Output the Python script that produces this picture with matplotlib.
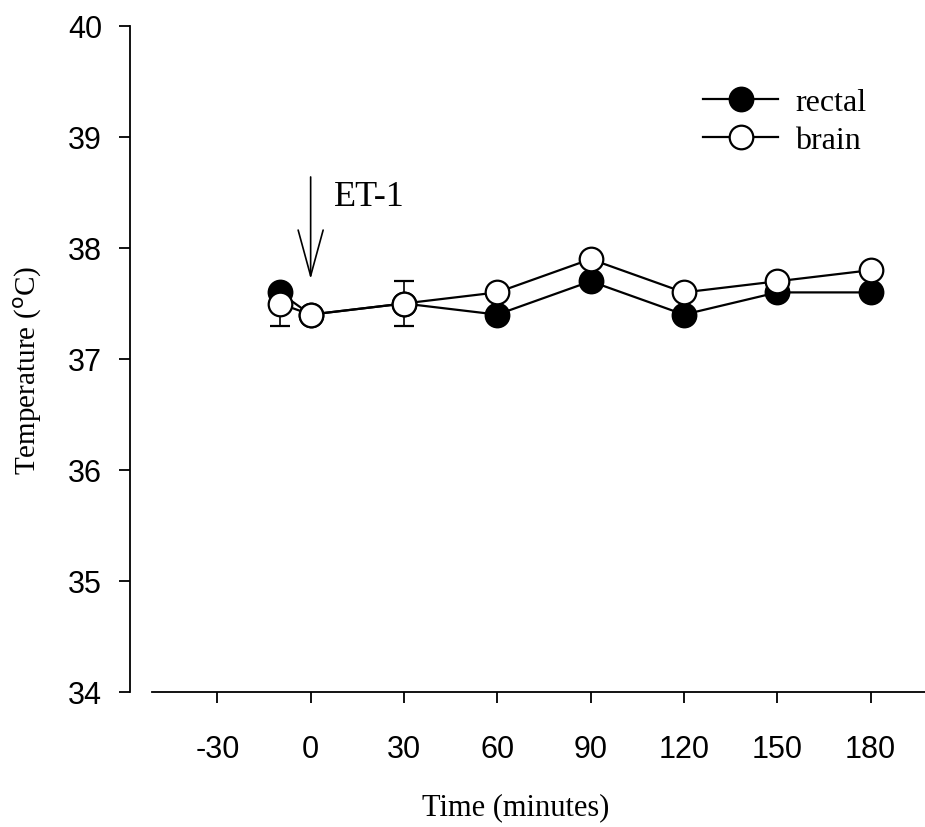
import matplotlib
matplotlib.use('Agg')
import matplotlib.pyplot as plt
from matplotlib.lines import Line2D

plt.rcParams['axes.unicode_minus'] = False

# time points (minutes) and mean temperatures
minutes = [-10, 0, 30, 60, 90, 120, 150, 180]
rectal = [37.6, 37.4, 37.5, 37.4, 37.7, 37.4, 37.6, 37.6]
brain = [37.5, 37.4, 37.5, 37.6, 37.9, 37.6, 37.7, 37.8]
brain_err_low = [0.2, 0, 0.2, 0, 0, 0, 0, 0]
brain_err_high = [0, 0, 0.2, 0, 0, 0, 0, 0]
xticks = [-30, 0, 30, 60, 90, 120, 150, 180]
yticks = [34, 35, 36, 37, 38, 39, 40]

sans = 'Liberation Sans'
serif = 'Liberation Serif'

fig = plt.figure(figsize=(9.25, 8.28), dpi=100)
ax = fig.add_axes([152 / 925, 135 / 828, 1 - 152 / 925, 666 / 828])

lw = 1.6
ms = 17
ax.plot(minutes, rectal, color='black', lw=lw, marker='o', ms=ms,
        mfc='black', mec='black', mew=lw, zorder=3)
ax.errorbar(minutes, brain, yerr=[brain_err_low, brain_err_high], color='black',
            lw=lw, marker='o', ms=ms, mfc='white', mec='black', mew=lw,
            capsize=7, elinewidth=1.2, zorder=4)

ax.set_xlim(-51, 197.5)
ax.set_ylim(34, 40)
ax.set_xticks(xticks)
ax.set_yticks(yticks)
ax.spines['top'].set_visible(False)
ax.spines['right'].set_visible(False)
ax.spines['left'].set_position(('outward', 16))
for s in ('left', 'bottom'):
    ax.spines[s].set_linewidth(1.3)
ax.tick_params(axis='both', direction='out', length=8, width=1.3)
ax.tick_params(axis='x', pad=22)
ax.tick_params(axis='y', pad=12)
for lab in ax.get_xticklabels() + ax.get_yticklabels():
    lab.set_fontfamily(sans)
    lab.set_fontsize(22)

ax.set_xlabel('Time (minutes)', fontfamily=serif, fontsize=22)
ax.set_ylabel('Temperature ($^{\\rm o}$C)', fontfamily=serif, fontsize=21)
ax.xaxis.set_label_coords(0.47, -0.173)
ax.xaxis.label.set_verticalalignment('center')
ax.yaxis.set_label_coords(-0.16, 0.485)
ax.yaxis.label.set_verticalalignment('center')

# ET-1 injection marker
ax.annotate('', xy=(0, 37.72), xytext=(0, 38.64),
            arrowprops=dict(arrowstyle='->,head_length=3.3,head_width=0.9',
                            lw=1.2, color='black', shrinkA=0, shrinkB=0,
                            mutation_scale=10))
ax.text(7.5, 38.46, 'ET-1', fontfamily=serif, fontsize=26, ha='left', va='center')

handles = [
    Line2D([], [], color='black', lw=lw, marker='o', ms=ms, mfc='black', mec='black', mew=lw),
    Line2D([], [], color='black', lw=lw, marker='o', ms=ms, mfc='white', mec='black', mew=lw),
]
ax.legend(handles, ['rectal', 'brain'], loc='upper left',
          bbox_to_anchor=(703 / 925, 1 - 89 / 828),
          bbox_transform=fig.transFigure, frameon=False, borderpad=0,
          borderaxespad=0, handlelength=2.35, handletextpad=0.53,
          labelspacing=0.27, prop={'family': serif, 'size': 23})

fig.savefig('out.png', dpi=100)
